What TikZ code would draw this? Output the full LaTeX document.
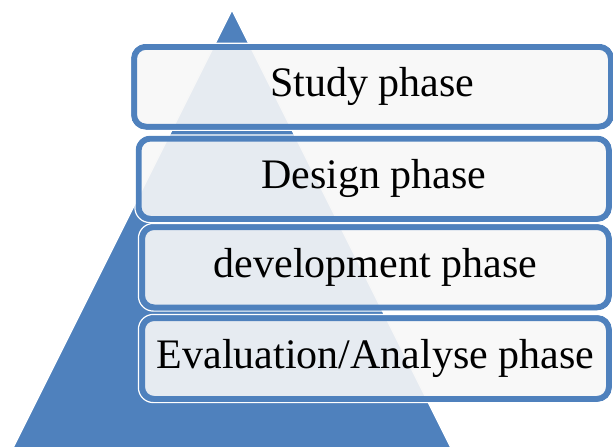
\documentclass[tikz,border=0pt]{standalone}
\usepackage{fontspec}
\setmainfont{Liberation Serif}
\definecolor{pyrblue}{HTML}{4F81BD}
\definecolor{boxfill}{HTML}{F7F7F7}
\tikzset{
  phasebox/.style={rectangle, rounded corners=12pt, draw=pyrblue, line width=6pt,
    fill=boxfill, fill opacity=0.9, text opacity=1, text=black,
    font=\fontsize{42}{48}\selectfont, inner sep=0pt},
  haloline/.style={draw=white, line width=1.2pt, rounded corners=15pt},
}
\begin{document}
\begin{tikzpicture}[x=1pt,y=-1pt]
\useasboundingbox (0,0) rectangle (613,447);
\coordinate (apex) at (232,10);
\coordinate (bl) at (13,448);
\coordinate (br) at (451,448);
\fill[pyrblue, draw=white, line width=1.2pt] (apex) -- (br) -- (bl) -- cycle;
\node[phasebox, minimum width=477pt, minimum height=80pt] (s1) at (372.5,86.75) {\raisebox{-2pt}{Study phase}};
\node[phasebox, minimum width=470.5pt, minimum height=80.5pt] (s2) at (373.75,178.75) {\raisebox{-2pt}{Design phase}};
\node[phasebox, minimum width=467pt, minimum height=80.5pt] (s3) at (375.5,267.25) {\raisebox{-2pt}{development phase}};
\node[phasebox, minimum width=467pt, minimum height=81pt] (s4) at (375.5,358.5) {\raisebox{-2pt}{Evaluation/Analyse phase}};
\foreach \n in {s1,s2,s3,s4}
  \draw[haloline] ([shift={(-0.6,0.6)}]\n.south west) rectangle ([shift={(0.6,-0.6)}]\n.north east);
\end{tikzpicture}
\end{document}
